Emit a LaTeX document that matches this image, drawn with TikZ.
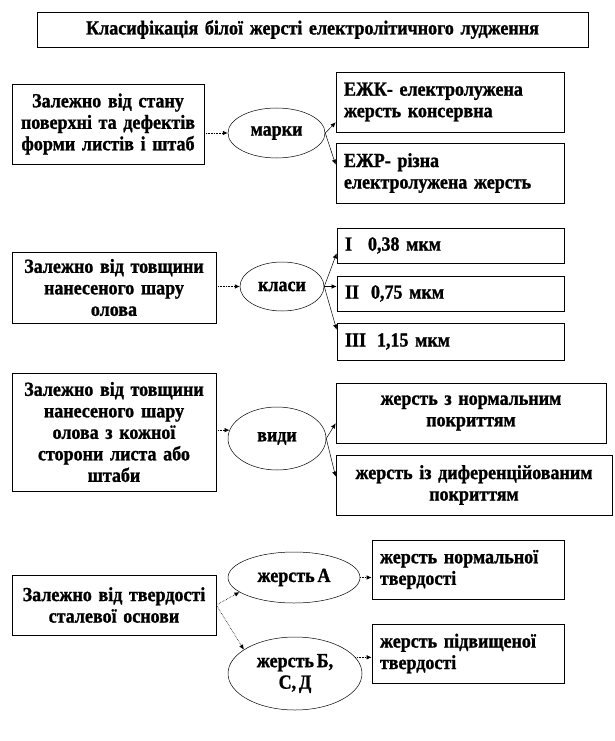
\documentclass[tikz,border=0pt]{standalone}
\usepackage{fontspec}
\setmainfont{Liberation Serif}[FakeStretch=0.9, BoldFeatures={FakeBold=1.2}]
\usetikzlibrary{arrows.meta,calc,shapes.geometric}
\newcommand\bfnt{\fontsize{20}{21.5}\selectfont\bfseries\spaceskip=2.8pt\relax}
\tikzset{
  box/.style={draw, line width=0.7pt, inner xsep=4pt, inner ysep=0pt, align=center, font=\bfnt},
  lbox/.style={box, inner xsep=8pt, align=left},
  ell/.style={draw, ellipse, line width=0.5pt, inner sep=0pt, align=center, font=\bfnt},
  conn/.style={densely dotted, line width=0.6pt, -{Latex[length=5pt,width=4.5pt]}},
  sconn/.style={line width=0.5pt, -{Latex[length=5pt,width=4.5pt]}}
}
\begin{document}
\begin{tikzpicture}[x=1pt,y=-1pt]
\useasboundingbox (0,0) rectangle (615,741);
% title
\node[box, minimum height=35pt, text width=543pt] (title) at (312.5,29.5) {Класифікація білої жерсті електролітичного лудження};
% section 1
\node[box, minimum height=80pt, text width=184pt] (b1) at (108,124) {Залежно від стану\\поверхні та дефектів\\форми листів і штаб};
\node[ell, minimum width=97pt, minimum height=50pt] (m) at (276.5,133) {марки};
\node[lbox, minimum height=60pt, text width=212pt] (ezk) at (450,102) {ЕЖК- електролужена\\жерсть консервна};
\node[lbox, minimum height=60pt, text width=212pt] (ezr) at (450,173) {ЕЖР- різна\\електролужена жерсть};
\draw[conn] (b1.east |- m.west) -- (m.west);
\draw[sconn] (m.east) -- ($(ezk.south west)+(0,-10)$);
\draw[sconn] (m.east) -- ($(ezr.north west)+(0,22)$);
% section 2
\node[box, minimum height=71pt, text width=196pt] (b2) at (114,287.5) {Залежно від товщини\\нанесеного шару\\олова};
\node[ell, minimum width=84pt, minimum height=49pt] (k) at (282,286.5) {класи};
\node[lbox, minimum height=35pt, text width=211pt] (c1) at (450.5,245.5) {I\hspace{16pt}0,38 мкм};
\node[lbox, minimum height=35pt, text width=211pt] (c2) at (450.5,293.5) {II\hspace{12pt}0,75 мкм};
\node[lbox, minimum height=37pt, text width=211pt] (c3) at (450.5,341.5) {III\hspace{11pt}1,15 мкм};
\draw[conn] (b2.east |- k.west) -- (k.west);
\draw[sconn] (k.east) -- ($(c1.south west)+(0,-10)$);
\draw[sconn] (k.east) -- (k.east -| c2.west);
\draw[sconn] (k.east) -- ($(c3.north west)+(0,7)$);
% section 3
\node[box, minimum height=118pt, text width=196pt] (b3) at (114,432) {Залежно від товщини\\нанесеного\hspace{7pt}шару\\олова з кожної\\сторони листа або\\штаби};
\node[ell, minimum width=98pt, minimum height=63pt] (v) at (277,438.5) {види};
\node[box, minimum height=60pt, text width=262pt] (v1) at (471,413) {жерсть з нормальним\\покриттям};
\node[box, minimum height=60pt, text width=268pt] (v2) at (474,485) {жерсть із диференційованим\\покриттям};
\draw[conn] (b3.east |- v.170) -- (v.170);
\draw[sconn] (v.east) -- ($(v1.south west)+(0,-20)$);
\draw[sconn] (v.east) -- ($(v2.north west)+(0,22)$);
% section 4
\node[box, minimum height=60pt, text width=196pt] (b4) at (114,605) {Залежно від твердості\\сталевої основи};
\node[ell, minimum width=132pt, minimum height=51pt] (ea) at (294,577.5) {жерсть А};
\node[ell, minimum width=134pt, minimum height=73pt] (eb) at (295,673.5) {жерсть Б,\\С, Д};
\node[lbox, minimum height=59pt, text width=176pt] (t1) at (468,569.5) {жерсть нормальної\\твердості};
\node[lbox, minimum height=59pt, text width=176pt] (t2) at (468,653.5) {жерсть підвищеної\\твердості};
\draw[conn] (b4.east) -- (ea.195);
\draw[conn] (b4.east) -- (eb.155);
\draw[conn] (ea.east) -- (ea.east -| t1.west);
\draw[conn] (eb.15) -- (eb.15 -| t2.west);
\end{tikzpicture}
\end{document}
